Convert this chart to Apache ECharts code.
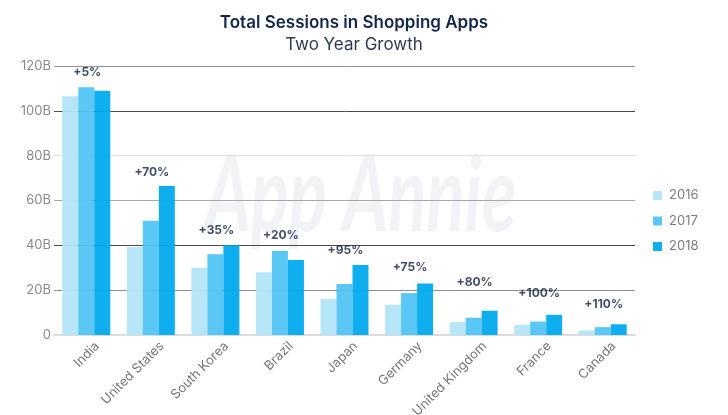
<!DOCTYPE html>
<html>
<head>
<meta charset="utf-8">
<script src="https://cdn.jsdelivr.net/npm/echarts@6/dist/echarts.min.js"></script>
<style>
  html, body { margin: 0; padding: 0; background: #fff; }
  #chart { width: 728px; height: 415px; }
</style>
</head>
<body>
<div id="chart"></div>
<script>
const countries = ["India", "United States", "South Korea", "Brazil", "Japan", "Germany", "United Kingdom", "France", "Canada"];
const sessions2016 = [106.5, 39.3, 30, 28, 16, 13.5, 5.8, 4.5, 2];
const sessions2017 = [110.5, 51, 36, 37.5, 22.8, 18.7, 7.7, 6, 3.5];
const sessions2018 = [109, 66.5, 40, 33.5, 31.2, 23, 10.8, 9, 4.8];
const growthLabels = ["+5%", "+70%", "+35%", "+20%", "+95%", "+75%", "+80%", "+100%", "+110%"];
// height of each growth label, in the same units as the value axis
const growthLabelLevels = [117.3, 72.7, 46.8, 44.6, 37.9, 30.3, 23.6, 18.7, 13.8];

const fontName = "Inter";
const chart = echarts.init(document.getElementById("chart"), null, { renderer: "canvas" });

function barSeries(name, values, color) {
  return {
    name: name,
    type: "bar",
    barWidth: 16,
    barGap: 0,
    // slightly see-through, the grid lines show faintly behind the bars
    itemStyle: { color: color, opacity: 0.94 },
    data: values,
  };
}

chart.setOption({
  backgroundColor: "#fff",
  animation: false,
  textStyle: { fontFamily: fontName },
  title: {
    text: "Total Sessions in Shopping Apps",
    subtext: "Two Year Growth",
    left: 349,
    textAlign: "center",
    top: 9,
    itemGap: 5,
    textStyle: { fontSize: 17, fontWeight: 600, color: "#14264d", fontFamily: fontName },
    subtextStyle: { fontSize: 17, fontWeight: 400, color: "#2d3a4f", fontFamily: fontName },
  },
  legend: {
    data: ["2016", "2017", "2018"],
    orient: "vertical",
    left: 648,
    top: 184,
    itemWidth: 9,
    itemHeight: 9,
    itemGap: 12.5,
    icon: "rect",
    textStyle: { fontSize: 13, color: "#7d7d7d", fontFamily: fontName, padding: [0, 0, 0, 2] },
  },
  grid: { left: 54, right: 93, top: 66, bottom: 80, outerBoundsMode: "none" },
  graphic: [
    {
      type: "text",
      x: 205,
      y: 145,
      scaleX: 0.84,
      scaleY: 1.25,
      z: -1,
      style: {
        text: "App Annie",
        font: "italic 700 84px Lato",
        fill: "#f1f3f6",
      },
    },
  ],
  xAxis: {
    type: "category",
    data: countries,
    axisLine: { lineStyle: { color: "#dddddd", width: 2 } },
    axisTick: { show: false },
    axisLabel: {
      interval: 0,
      rotate: 45,
      margin: -2,
      fontSize: 13,
      color: "#767676",
      fontFamily: fontName,
      verticalAlign: "top",
      padding: [9, 0, 0, 0],
    },
  },
  yAxis: {
    type: "value",
    min: 0,
    max: 120,
    interval: 20,
    axisLine: { show: false },
    axisTick: { show: false },
    axisLabel: {
      margin: 3,
      fontSize: 13,
      color: "#8a8a8a",
      fontFamily: fontName,
      formatter: (v) => (v === 0 ? "0" : v + "B"),
    },
    splitLine: {
      show: true,
      lineStyle: {
        width: 1,
        color: ["#dddddd", "#8f8f8f", "#4a4a4a", "#a8a8a8", "#dedede", "#4a4a4a", "#959595"],
      },
    },
  },
  series: [
    barSeries("2016", sessions2016, "#b1e4f8"),
    barSeries("2017", sessions2017, "#50c4f4"),
    barSeries("2018", sessions2018, "#00a9ee"),
    {
      name: "growth",
      type: "scatter",
      symbolSize: 0,
      silent: true,
      data: growthLabelLevels,
      label: {
        show: true,
        position: "inside",
        offset: [1, 0],
        fontSize: 12,
        fontWeight: 700,
        color: "#0f1f42",
        fontFamily: fontName,
        formatter: (p) => growthLabels[p.dataIndex],
      },
    },
  ],
});
</script>
</body>
</html>
